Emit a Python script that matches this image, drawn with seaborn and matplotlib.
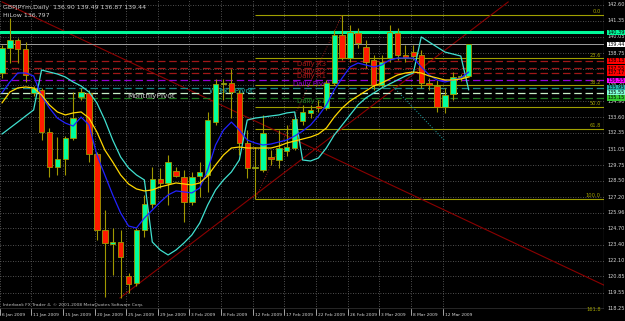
import numpy as np
import pandas as pd
import matplotlib
matplotlib.use("Agg")
import matplotlib.pyplot as plt
import matplotlib.transforms as mtransforms
from matplotlib import font_manager
import seaborn as sns

# ---------------- data ----------------
opens  = [137.15,139.15,139.79,139.07,135.55,135.79,132.42,129.62,130.26,131.94,
          135.23,135.55,130.66,124.57,123.45,123.61,120.89,120.32,124.57,126.65,
          128.66,128.34,129.30,128.82,126.81,128.90,128.98,133.22,136.27,136.35,
          135.55,131.54,129.54,129.38,130.42,130.18,130.90,131.14,133.30,133.95,
          134.51,134.35,136.35,140.20,138.35,140.36,139.23,138.19,136.19,138.35,
          140.36,138.59,138.83,138.59,136.35,136.11,134.43,135.47,136.83,136.90]
highs  = [139.39,141.56,139.96,139.63,136.11,135.95,132.74,132.02,132.10,135.63,
          135.95,135.79,130.82,126.17,124.73,124.57,121.13,124.73,127.38,129.62,
          129.54,130.58,129.62,129.38,129.22,130.02,134.03,136.67,136.67,137.47,
          135.79,132.58,131.22,133.79,130.98,132.58,133.00,133.79,134.59,134.59,
          134.99,136.59,140.60,141.80,141.00,140.76,139.79,138.59,138.59,141.00,
          140.76,139.39,139.39,138.99,136.75,136.59,135.95,137.23,137.10,139.49]
lows   = [136.75,137.95,137.95,136.43,135.31,131.78,128.82,128.98,128.98,131.78,
          134.99,130.02,123.77,119.20,120.97,119.12,119.52,120.08,124.01,126.33,
          127.94,126.57,128.82,125.21,126.57,127.21,127.62,132.98,134.99,133.54,
          130.58,128.74,127.06,129.22,129.78,129.54,130.50,130.98,132.98,133.54,
          134.03,134.19,136.19,138.19,138.03,139.15,137.55,135.79,135.95,138.03,
          138.19,138.03,138.19,135.95,135.79,134.03,133.95,134.99,136.50,136.87]
closes = [139.15,139.79,139.07,136.99,135.95,132.42,129.62,130.26,131.94,133.54,
          135.63,130.66,124.57,123.53,123.61,122.41,120.24,124.57,126.65,128.66,
          128.34,130.02,128.90,126.81,128.82,129.22,133.38,136.27,136.35,135.63,
          131.54,129.54,129.58,132.34,130.26,131.14,131.20,133.46,134.03,134.19,
          134.35,136.35,140.20,138.35,140.44,139.55,138.03,136.19,138.03,140.44,
          138.59,138.43,138.51,136.35,136.19,134.43,135.39,136.83,136.90,139.44]

ma_yellow = [134.75,135.63,135.95,136.03,135.95,135.39,134.59,134.03,133.79,133.95,
             134.03,133.54,132.42,130.98,130.02,128.98,128.26,127.86,127.70,127.78,
             128.02,128.18,128.34,128.26,128.18,128.34,128.90,129.78,130.58,131.14,
             131.22,131.14,131.14,131.14,131.14,131.30,131.54,131.70,131.86,132.02,
             132.26,132.74,133.62,134.35,134.91,135.31,135.71,136.11,136.35,136.67,
             136.99,137.15,137.23,137.15,136.91,136.75,136.59,136.59,136.67,136.83]
ma_blue = [135.55,136.43,137.15,137.15,136.91,135.31,134.35,133.54,133.14,132.90,
           133.62,132.98,130.58,128.98,127.38,125.93,124.89,124.73,125.53,126.17,
           126.81,127.38,127.70,127.62,127.54,127.94,129.38,131.38,132.58,133.22,
           132.58,131.78,131.54,131.38,131.46,131.62,131.78,132.10,132.50,132.98,
           133.71,134.59,135.79,136.75,137.63,137.95,137.79,137.63,137.79,138.19,
           138.35,138.35,138.35,137.63,136.99,136.59,136.43,136.59,136.75,137.23]
hilow_cyan = [132.26,132.74,133.22,133.71,134.19,137.39,137.23,137.07,136.83,136.43,
              136.11,135.63,134.75,133.38,131.78,130.42,129.54,128.98,128.58,123.61,
              122.97,122.57,122.97,123.53,124.17,125.13,126.57,127.78,128.58,129.22,
              130.18,133.38,133.54,133.62,133.71,133.79,133.95,134.03,130.18,130.10,
              130.34,131.14,132.18,132.98,133.79,134.59,135.15,135.55,135.95,136.27,
              136.59,136.91,137.15,140.04,139.63,139.23,138.83,138.67,138.51,135.79]

tick_idx = [0, 4, 8, 12, 16, 20, 24, 28, 32, 36, 40, 44, 48, 52, 56]
tick_labels = ["6 Jan 2009", "11 Jan 2009", "15 Jan 2009", "20 Jan 2009", "25 Jan 2009",
               "29 Jan 2009", "3 Feb 2009", "8 Feb 2009", "12 Feb 2009", "17 Feb 2009",
               "22 Feb 2009", "26 Feb 2009", "3 Mar 2009", "8 Mar 2009", "12 Mar 2009"]
price_ticks = [142.60, 141.35, 140.05, 138.75, 137.45, 136.20, 134.90, 133.60, 132.35,
               131.05, 129.75, 128.50, 127.20, 125.96, 124.70, 123.40, 122.10, 120.85,
               119.55, 118.25]
price_tick_labels = ["142.60", "141.35", "140.05", "138.75", "137.45", "136.20", "134.90",
                     "133.60", "132.35", "131.05", "129.75", "128.50", "127.20", "125.96",
                     "124.70", "123.40", "122.10", "120.85", "119.55", "118.25"]

# pivot style horizontal lines
pivot_names = ["Daily R3", "Daily R2", "Daily R1", "Daily Pivot", "WeeklyPivot",
               "MonthlyPivot", "Daily S1"]
pivot_prices = [138.13, 137.55, 137.17, 136.55, 135.95, 135.55, 135.15]
pivot_colors = ["#a01818", "#a01818", "#a01818", "#9400d3", "#1a8a8a", "#c8f0c8", "#1f7a1f"]
pivot_label_colors = ["#ff0000", "#ff0000", "#ff0000", "#ff00ff", "#20b2aa", "#7fffd4", "#32cd32"]
pivot_text_colors = ["#a01818", "#a01818", "#a01818", "#9400d3", "#20b2aa", "#c8c8c8", "#1f7a1f"]
pivot_text_x = [39.1, 39.1, 39.1, 39.1, 29.0, 18.9, 39.1]
fe_price = 140.40
bid_price = 139.44

fib_start = 32
fib_high = 141.80
fib_low = 127.06
fib_levels = [0.0, 23.6, 38.2, 50.0, 61.8, 100.0, 161.8]

trend_down = ([0, 76.1], [142.85, 120.15])   # (bar index, price) endpoints
trend_up = ([14.9, 64.0], [119.12, 142.85])
fib_diag = ([32, 43], [127.06, 141.80])
dotted_teal = ([49, 56], [136.35, 131.7])

# ---------------- fonts ----------------
names = {f.name for f in font_manager.fontManager.ttflist}
if "Liberation Sans Narrow" in names:
    small_font = "Liberation Sans Narrow"
    fs_date, fs_axis, fs_foot, fs_head, fs_fib = 4.0, 4.6, 3.9, 5.3, 4.4
else:
    small_font = "DejaVu Sans"
    fs_date, fs_axis, fs_foot, fs_head, fs_fib = 3.2, 3.6, 3.2, 4.5, 3.7

# ---------------- figure ----------------
sns.set_style("dark", {"axes.facecolor": "black", "figure.facecolor": "black"})
plt.rcParams["font.family"] = [small_font, "DejaVu Sans"]

fig = plt.figure(figsize=(6.25, 3.21), dpi=100)
ax = fig.add_axes([0, 12 / 321, 604 / 625, 309 / 321])
ax.set_facecolor("black")
x0, x1 = -0.25, 76.1
y0, y1 = 118.24, 143.0
ax.set_xlim(x0, x1)
ax.set_ylim(y0, y1)

grid_kw = dict(color="#6a6a6a", lw=0.6, ls=(0, (1, 2)), zorder=0)
for p in price_ticks:
    ax.axhline(p, **grid_kw)
for t in tick_idx:
    ax.axvline(t - 0.3, **grid_kw)

# Fibonacci levels
fib_col = "#a0a000"
for lv in fib_levels:
    pr = fib_high - lv / 100 * (fib_high - fib_low)
    ax.hlines(pr, fib_start, x1, color=fib_col, lw=0.8, zorder=1)
    ax.text(75.7, pr + 0.04, f"{lv:.1f}", color=fib_col, fontsize=fs_fib, ha="right",
            va="bottom", zorder=6)
ax.plot(*fib_diag, color="#8b1a1a", lw=0.7, ls=(0, (1, 1.5)), zorder=1)

# trend lines
ax.plot(*trend_down, color="#8b0000", lw=0.8, zorder=1)
ax.plot(*trend_up, color="#8b0000", lw=0.8, zorder=1)
ax.plot(*dotted_teal, color="#1a8a8a", lw=0.8, ls=(0, (1, 1.5)), zorder=1)

# pivot lines + their names
for p, c in zip(pivot_prices, pivot_colors):
    ax.axhline(p, color=c, lw=0.9, ls=(0, (6, 3)), zorder=1)
for name, p, tc, tx in zip(pivot_names, pivot_prices, pivot_text_colors, pivot_text_x):
    fs = 5.0 if name.startswith("Daily") else 5.3
    ax.text(tx, p - 0.03, name, color=tc, fontsize=fs, ha="center", va="top", zorder=2.5,
            family="DejaVu Sans")
ax.axhline(fe_price, color="#00fa9a", lw=2.2, zorder=2)
ax.axhline(bid_price, color="#a0a0a0", lw=0.7, zorder=2)

# indicator lines
idx = np.arange(len(opens))
sns.lineplot(x=idx, y=hilow_cyan, ax=ax, color="#40e0d0", lw=0.9, zorder=4)
sns.lineplot(x=idx, y=ma_blue, ax=ax, color="#2222ff", lw=0.9, zorder=4)
sns.lineplot(x=idx, y=ma_yellow, ax=ax, color="#ffd700", lw=0.9, zorder=4)

# candles
o = np.array(opens); c = np.array(closes)
up = c >= o
wick = "#a09800"
ax.vlines(idx, lows, highs, color=wick, lw=0.8, zorder=3)
bottoms = np.minimum(o, c)
heights = np.maximum(np.abs(c - o), 0.08)
ax.bar(idx[up], heights[up], bottom=bottoms[up], width=0.68, color="#00ff9c",
       edgecolor=wick, lw=0.6, zorder=3)
ax.bar(idx[~up], heights[~up], bottom=bottoms[~up], width=0.68, color="#ff1a00",
       edgecolor=wick, lw=0.6, zorder=3)

fig.text(3 / 625, 1 - 9 / 321, "GBPJPYm,Daily  136.90 139.49 136.87 139.44",
         color="#d0d0d0", fontsize=fs_head)
fig.text(3 / 625, 1 - 17 / 321, "HiLow 136.797", color="#d0d0d0", fontsize=fs_head)
fig.text(3 / 625, 1 - 306 / 321, "Interbank FX Trader 4, \u00a9 2001-2008 MetaQuotes Software Corp.",
         color="#c0c0c0", fontsize=fs_foot)

# axes
for s in ax.spines.values():
    s.set_visible(False)
ax.axvline(x1, color="#c0c0c0", lw=0.8)
ax.axhline(y0, color="#c0c0c0", lw=1.0)
ax.set_xticks([]); ax.set_yticks([])

trans_y = mtransforms.blended_transform_factory(ax.transAxes, ax.transData)
for p, lab in zip(price_ticks, price_tick_labels):
    ax.text(1.005, p, lab, transform=trans_y, color="#d8d8d8", fontsize=fs_axis,
            va="center", ha="left", clip_on=False)

def axis_box(p, lab, fc, tc="black"):
    ax.text(1.005, p, lab, transform=trans_y, color=tc, fontsize=fs_axis, va="center",
            ha="left", clip_on=False, zorder=10,
            bbox=dict(boxstyle="square,pad=0.08", fc=fc, ec="none"))

axis_box(fe_price, "140.39", "#00fa9a")
axis_box(bid_price, "139.44", "white")
for p, lc in zip(pivot_prices, pivot_label_colors):
    axis_box(p, f"{p:.2f}", lc)

trans_x = mtransforms.blended_transform_factory(ax.transData, ax.transAxes)
for t, lab in zip(tick_idx, tick_labels):
    ax.text(t - 0.05, -0.012, lab, transform=trans_x, color="#d8d8d8", fontsize=fs_date,
            ha="left", va="top", clip_on=False)
    ax.plot([t - 0.3, t - 0.3], [0, -0.02], transform=trans_x, color="#c0c0c0", lw=0.6,
            clip_on=False)

fig.savefig("out.png", dpi=100, facecolor="black")
